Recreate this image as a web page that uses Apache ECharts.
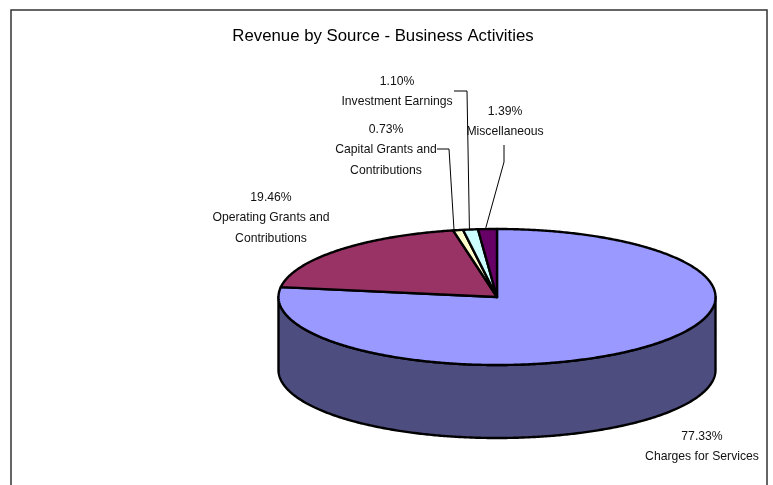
<!DOCTYPE html>
<html>
<head>
<meta charset="utf-8">
<style>html,body{margin:0;padding:0;background:#fff}#chart{width:773px;height:485px}</style>
<script src="https://cdn.jsdelivr.net/npm/echarts@6/dist/echarts.min.js"></script>
</head>
<body>
<div id="chart"></div>
<script>
// Revenue shares, in drawing order clockwise from twelve o'clock
const sources = ['Charges for Services', 'Operating Grants and\nContributions', 'Capital Grants and\nContributions', 'Investment Earnings', 'Miscellaneous'];
const shares = [77.33, 19.46, 0.73, 1.10, 1.39];
const topColors = ['#9999FF', '#993366', '#FFFFCC', '#CCFFFF', '#660066'];
const wallColors = ['#4D4D80', '#4D1A33', '#808066', '#668080', '#330033'];

// Tilted disc geometry
const disc = { cx: 497, cy: 297, rx: 218.5, ry: 68, depth: 73 };

// Label centres and leader routing for each slice
const labelCentres = [[702, 436], [271, 197], [386, 129], [397, 81], [505, 111]];
const leaderElbows = [[], [], [[437, 149], [449, 149]], [[454, 91], [467, 91]], [[504, 145], [504, 162]]];
const leaderNudge = [0, 0, -4, -1, -2];

const total = shares.reduce((a, b) => a + b, 0);
const rad = d => d * Math.PI / 180;
const rim = (deg, dy) => [
  disc.cx + disc.rx * Math.sin(rad(deg)),
  disc.cy - disc.ry * Math.cos(rad(deg)) + (dy || 0)
];
const arc = (from, to, dy) => {
  const pts = [];
  const n = Math.max(2, Math.ceil(Math.abs(to - from) * 2));
  for (let i = 0; i <= n; i++) pts.push(rim(from + (to - from) * i / n, dy));
  return pts;
};

function startAngle(index) {
  let sum = 0;
  for (let i = 0; i < index; i++) sum += shares[i];
  return sum / total * 360;
}

function renderSlice(params, api) {
  const i = params.dataIndex;
  const a0 = startAngle(i);
  const a1 = a0 + api.value(0) / total * 360;
  const outline = { stroke: '#000', lineWidth: 2.4, lineJoin: 'round' };
  const children = [];

  // Front wall: only the part of the rim facing the viewer
  const w0 = Math.max(a0, 90), w1 = Math.min(a1, 270);
  if (w1 > w0) {
    children.push({
      type: 'polygon',
      shape: { points: arc(w0, w1, 0).concat(arc(w1, w0, disc.depth)) },
      style: Object.assign({ fill: wallColors[i] }, outline)
    });
  }

  // Top face
  children.push({
    type: 'polygon',
    shape: { points: [[disc.cx, disc.cy]].concat(arc(a0, a1, 0)) },
    style: Object.assign({ fill: topColors[i] }, outline)
  });

  // Leader line
  if (leaderElbows[i].length) {
    const end = rim((a0 + a1) / 2, 0);
    end[0] += leaderNudge[i];
    children.push({
      type: 'polyline',
      shape: { points: leaderElbows[i].concat([end]) },
      style: { stroke: '#000', lineWidth: 1, fill: null }
    });
  }

  // Percentage plus source name
  children.push({
    type: 'text',
    z2: 10,
    style: {
      x: labelCentres[i][0],
      y: labelCentres[i][1] - 10,
      text: api.value(0).toFixed(2) + '%\n' + sources[i],
      align: 'center',
      verticalAlign: 'top',
      font: '12.2px "Liberation Sans", Arial, sans-serif',
      lineHeight: 20.5,
      fill: '#111'
    }
  });
  return { type: 'group', children };
}

const chart = echarts.init(document.getElementById('chart'), null, { renderer: 'canvas' });
chart.setOption({
  animation: false,
  backgroundColor: '#fff',
  title: {
    text: 'Revenue by Source - Business Activities',
    left: 378,
    top: 21,
    textAlign: 'center',
    textStyle: { color: '#000', fontWeight: 'normal', fontSize: 16.8, fontFamily: '"Liberation Sans", Arial, sans-serif', lineHeight: 20 }
  },
  graphic: [{
    type: 'rect',
    z: -1,
    shape: { x: 11, y: 10, width: 756, height: 500 },
    style: { fill: '#fff', stroke: '#333', lineWidth: 1.5 }
  }],
  series: [{
    type: 'custom',
    coordinateSystem: 'none',
    silent: true,
    clip: false,
    renderItem: renderSlice,
    data: shares.map((v, i) => ({ name: sources[i], value: [v] }))
  }]
});
</script>
</body>
</html>
